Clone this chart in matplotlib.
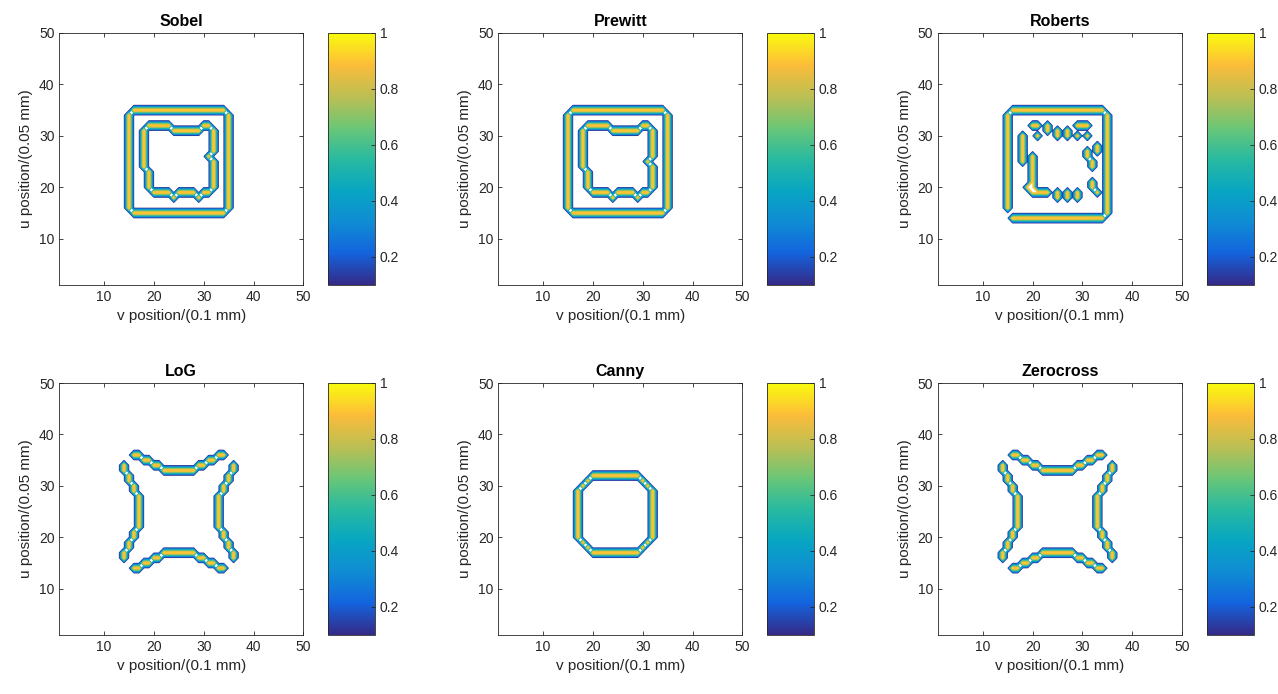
import numpy as np
import matplotlib
matplotlib.use('Agg')
import matplotlib.pyplot as plt
from matplotlib.colors import LinearSegmentedColormap, Normalize
from matplotlib.cm import ScalarMappable
from matplotlib.ticker import FixedLocator, FixedFormatter

plt.rcParams['font.family'] = ['Liberation Sans', 'DejaVu Sans']

N = 50
titles = ['Sobel', 'Prewitt', 'Roberts', 'LoG', 'Canny', 'Zerocross']
cbar_ticks = [0.2, 0.4, 0.6, 0.8, 1.0]
cbar_labels = ['0.2', '0.4', '0.6', '0.8', '1']
axis_ticks = [10, 20, 30, 40, 50]

# edge images: horizontal runs (u, v0, v1), vertical runs (v, u0, u1), single pixels (v, u)
sobel_h = [(35, 16, 34), (15, 16, 34), (32, 19, 23), (31, 24, 29), (32, 30, 31),
           (19, 20, 23), (19, 25, 28), (19, 30, 31)]
sobel_v = [(15, 16, 34), (35, 16, 34), (18, 24, 31), (19, 20, 23), (32, 27, 31), (32, 20, 25)]
sobel_px = [(31, 26), (24, 18), (29, 18)]

prewitt_h = [(35, 16, 34), (15, 16, 34), (32, 19, 23), (31, 24, 29), (32, 30, 31),
             (19, 20, 23), (19, 25, 28), (19, 30, 31)]
prewitt_v = [(15, 16, 34), (35, 16, 34), (18, 24, 31), (19, 20, 23), (32, 26, 31), (32, 20, 24)]
prewitt_px = [(31, 25), (24, 18), (29, 18)]

roberts_h = [(35, 16, 34), (14, 16, 34), (19, 20, 23)]
roberts_v = [(15, 16, 34), (35, 15, 34), (18, 25, 30), (20, 20, 26)]
roberts_px = [(20, 32), (21, 32), (21, 30), (23, 32), (23, 31), (25, 31), (25, 30),
              (27, 31), (27, 30), (29, 32), (30, 32), (31, 32), (29, 30), (31, 30),
              (19, 20), (25, 18), (25, 19), (27, 18), (27, 19), (29, 18), (29, 19),
              (31, 27), (31, 26), (32, 25), (32, 24), (33, 28), (33, 27),
              (32, 21), (32, 20), (33, 19)]

log_h = [(33, 22, 28), (17, 22, 28)]
log_v = [(17, 22, 28), (33, 22, 28)]
log_px = [(21, 34), (20, 34), (19, 35), (18, 35), (17, 36), (16, 36),
          (29, 34), (30, 34), (31, 35), (32, 35), (33, 36), (34, 36),
          (21, 16), (20, 16), (19, 15), (18, 15), (17, 14), (16, 14),
          (29, 16), (30, 16), (31, 15), (32, 15), (33, 14), (34, 14),
          (16, 29), (16, 30), (15, 31), (15, 32), (14, 33), (14, 34),
          (16, 21), (16, 20), (15, 19), (15, 18), (14, 17), (14, 16),
          (34, 29), (34, 30), (35, 31), (35, 32), (36, 33), (36, 34),
          (34, 21), (34, 20), (35, 19), (35, 18), (36, 17), (36, 16)]

canny_h = [(32, 20, 29), (17, 20, 29)]
canny_v = [(17, 20, 29), (32, 20, 29)]
canny_px = [(18, 30), (19, 31), (30, 31), (31, 30), (18, 19), (19, 18), (30, 18), (31, 19)]

zerocross_h = log_h
zerocross_v = log_v
zerocross_px = log_px

# parula-like colormap
parula_pts = [(0.2081, 0.1663, 0.5292), (0.0780, 0.3900, 0.8700), (0.0600, 0.5500, 0.8300),
              (0.0300, 0.6500, 0.7600), (0.1574, 0.7284, 0.6286), (0.4208, 0.7778, 0.4619),
              (0.7410, 0.7473, 0.3237), (0.9903, 0.7379, 0.2246), (0.9763, 0.9831, 0.0538)]
parula = LinearSegmentedColormap.from_list('parula', parula_pts)


def edge_map(h, v, px):
    z = np.zeros((N, N))
    for u, a, b in h:
        z[u - 1, a - 1:b] = 1
    for c, a, b in v:
        z[a - 1:b, c - 1] = 1
    for c, u in px:
        z[u - 1, c - 1] = 1
    return z


maps = [edge_map(sobel_h, sobel_v, sobel_px),
        edge_map(prewitt_h, prewitt_v, prewitt_px),
        edge_map(roberts_h, roberts_v, roberts_px),
        edge_map(log_h, log_v, log_px),
        edge_map(canny_h, canny_v, canny_px),
        edge_map(zerocross_h, zerocross_v, zerocross_px)]

W, H = 1278, 694
fig = plt.figure(figsize=(W / 100, H / 100), dpi=100)
x = np.arange(1, N + 1)
y = np.arange(1, N + 1)
dark = '#262626'

lefts = [59.3, 498.3, 938]
tops = [33, 383]
aw, ah = 244, 252

for k in range(6):
    l = lefts[k % 3]
    t = tops[k // 3]
    norm = Normalize(0.1, 1.0)
    ax = fig.add_axes([l / W, 1 - (t + ah) / H, aw / W, ah / H])
    ax.contour(x, y, maps[k], levels=np.arange(0.1, 0.95, 0.1), cmap=parula, norm=norm,
               linewidths=1.0)
    ax.set_xlim(1, 50)
    ax.set_ylim(1, 50)
    ax.set_xticks(axis_ticks)
    ax.set_yticks(axis_ticks)
    ax.tick_params(direction='in', top=True, right=True, length=3, labelsize=10,
                   colors=dark, width=0.6)
    for s in ax.spines.values():
        s.set_color(dark)
        s.set_linewidth(0.6)
    ax.set_title(titles[k], fontsize=11.5, fontweight='bold', color='k', pad=5)
    ax.set_xlabel('v position/(0.1 mm)', fontsize=11, color=dark, labelpad=4)
    ax.set_ylabel('u position/(0.05 mm)', fontsize=11, color=dark, labelpad=4)

    cax = fig.add_axes([(l + 268.7) / W, 1 - (t + ah) / H, 47 / W, ah / H])
    cb = fig.colorbar(ScalarMappable(norm=Normalize(0.1, 1.0), cmap=parula), cax=cax)
    cb.ax.yaxis.set_major_locator(FixedLocator(cbar_ticks))
    cb.ax.yaxis.set_major_formatter(FixedFormatter(cbar_labels))
    cb.ax.tick_params(direction='in', length=3, labelsize=10, colors=dark, width=0.6)
    cb.outline.set_edgecolor(dark)
    cb.outline.set_linewidth(0.6)

fig.savefig('out.png', dpi=100)
